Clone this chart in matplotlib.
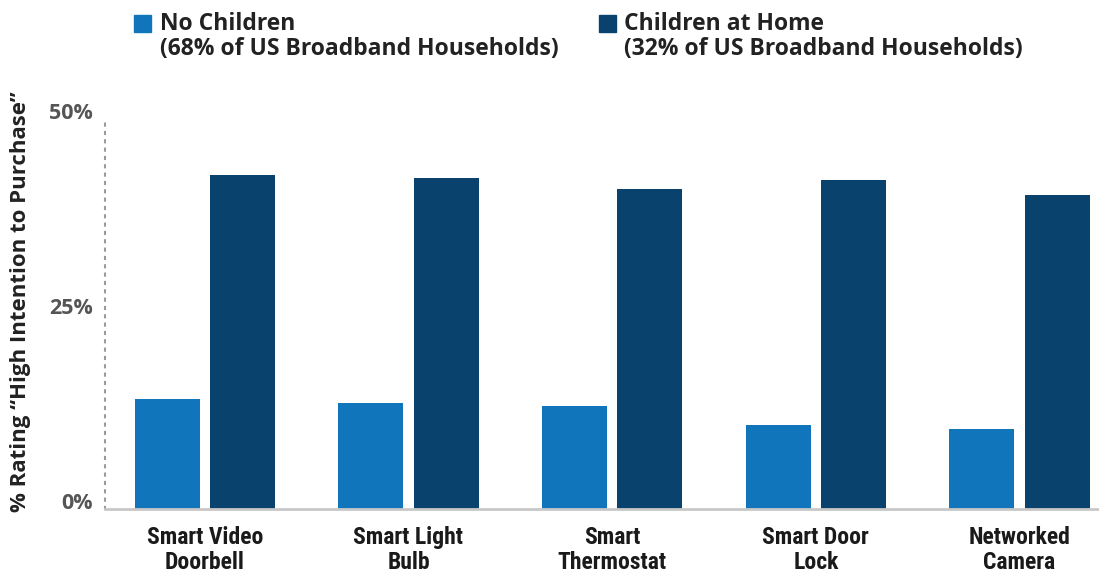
import numpy as np
import matplotlib.pyplot as plt

categories = ["Smart Video\nDoorbell", "Smart Light\nBulb", "Smart\nThermostat",
              "Smart Door\nLock", "Networked\nCamera"]
no_children = [14.1, 13.6, 13.2, 10.8, 10.2]
children_home = [42.8, 42.4, 41.0, 42.2, 40.2]
series_labels = ["No Children\n(68% of US Broadband Households)",
                 "Children at Home\n(32% of US Broadband Households)"]
ytick_vals = [0, 25, 50]
ytick_labels = ["0%", "25%", "50%"]

light = "#1175bb"
dark = "#0a426e"

fig = plt.figure(figsize=(10.99, 5.73), dpi=100)
ax = fig.add_axes([105 / 1099, (573 - 509) / 573, (1099 - 105) / 1099, (509 - 119) / 573])

x = np.arange(len(categories))
w = 0.32
ax.bar(x - 0.185, no_children, width=w, color=light)
ax.bar(x + 0.185, children_home, width=w, color=dark)

ax.set_xlim(-0.49, 4.39)
ax.set_ylim(0, 50)

ax.spines['top'].set_visible(False)
ax.spines['right'].set_visible(False)
ax.spines['left'].set_linestyle((0, (1, 3)))
ax.spines['left'].set_color("#9a9a9a")
ax.spines['left'].set_linewidth(1.5)
ax.spines['bottom'].set_color("#c8c8c8")
ax.spines['bottom'].set_linewidth(2)

ax.set_yticks(ytick_vals)
ax.set_yticklabels(ytick_labels, fontsize=15.5, fontweight='bold', color="#555555",
                   family="Open Sans", va='baseline')
ax.tick_params(axis='y', length=0, pad=9)
ax.tick_params(axis='x', length=0, pad=12)
ax.set_xticks(x)
ax.set_xticklabels(categories, fontsize=17, fontweight='bold', color="#1a1a1a",
                   family=["Roboto Condensed", "Roboto"], linespacing=1.12)

fig.text(21 / 1099, 1 - 302 / 573, "% Rating \u201cHigh Intention to Purchase\u201d",
         rotation=90, ha='center', va='center', fontsize=16, fontweight='bold',
         color="#222222", family="Open Sans")

# legend
fig.patches.append(plt.Rectangle((134 / 1099, 1 - 32 / 573), 17 / 1099, 17 / 573,
                                 transform=fig.transFigure, color=light))
fig.patches.append(plt.Rectangle((599 / 1099, 1 - 32 / 573), 17 / 1099, 17 / 573,
                                 transform=fig.transFigure, color=dark))
fig.text(160 / 1099, 1 - 12 / 573, series_labels[0], ha='left', va='top', fontsize=16.5,
         fontweight='bold', color="#222222", family="Open Sans", linespacing=1.05)
fig.text(624 / 1099, 1 - 12 / 573, series_labels[1], ha='left', va='top', fontsize=16.5,
         fontweight='bold', color="#222222", family="Open Sans", linespacing=1.05)

fig.savefig("out.png", dpi=100)
